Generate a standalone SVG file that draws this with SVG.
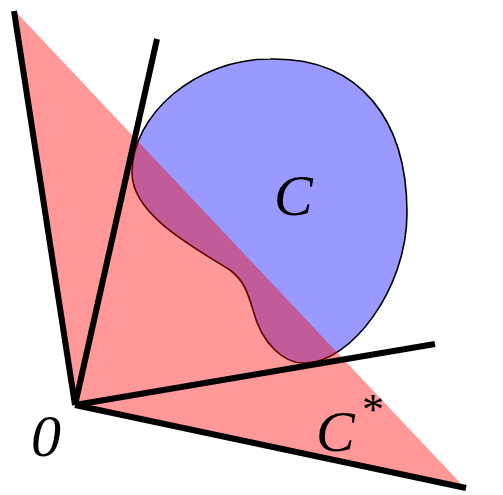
<svg xmlns="http://www.w3.org/2000/svg" width="503" height="495" viewBox="0 0 503 495">
<style>
.ray{stroke:#000;stroke-width:6;fill:none;stroke-linecap:butt}
.lbl{font-family:"Liberation Serif","Times New Roman",serif;font-style:italic;fill:#000}
</style>
<rect width="503" height="495" fill="#fff"/>
<g id="C">
<path d="M270,59 C360,57 407,120 407,213 C407,290 350,363 305,363 C285,364 262,345 253,310 C247,290 243,280 230,270 C195,248 132,215 132,173 C132,115 195,59 270,59 Z" fill="#0000ff" fill-opacity="0.4" stroke="#000" stroke-width="1.6"/>
</g>
<g id="Cstar">
<polygon points="16,12 75,405 465,488" fill="#ff0000" fill-opacity="0.4"/>
</g>
<g id="connectors">
<line class="ray" x1="75" y1="405" x2="14" y2="11"/>
<line class="ray" x1="75" y1="405" x2="157" y2="39"/>
<line class="ray" x1="75" y1="405" x2="435" y2="344"/>
<line class="ray" x1="75" y1="405" x2="466" y2="488"/>
</g>
<g id="labels">
<text class="lbl" x="274" y="215" font-size="58">C</text>
<text class="lbl" x="31" y="456" font-size="60">0</text>
<text class="lbl" x="316" y="451" font-size="58">C<tspan x="362" y="424" font-size="44" font-style="normal">*</tspan></text>
</g>
</svg>
